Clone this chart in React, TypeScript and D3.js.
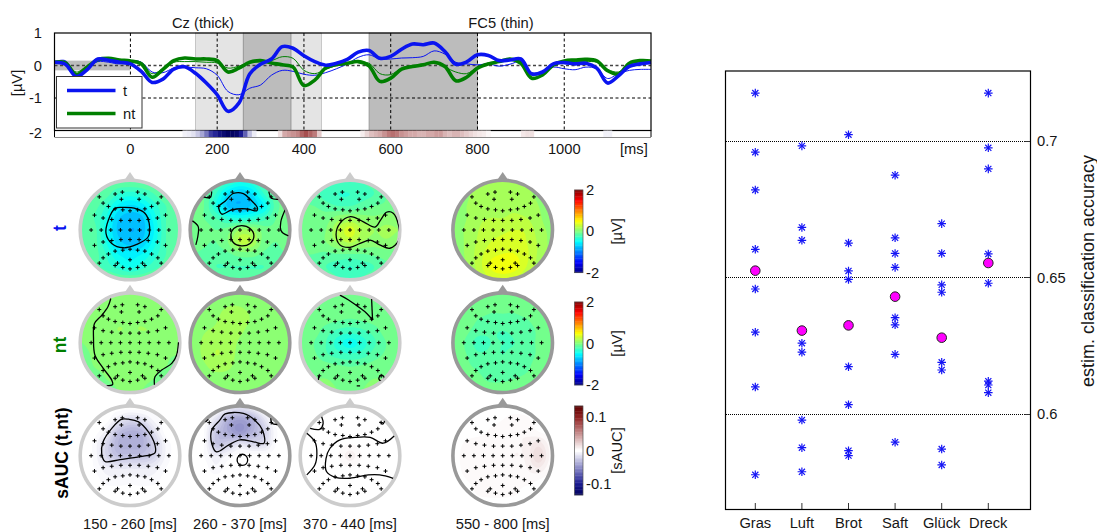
// App.tsx
import React from "react";
import * as d3 from "d3";

// ERP time courses, sampled every 25 ms
const erpTimes = d3.range(-175, 1201, 25);
const tThick = [0.1, 0.04, -0.34, -0.13, 0.2, 0.16, 0.1, 0.05, -0.18, -0.52, -0.42, -0.11, -0.04, -0.24, -0.54, -0.9, -1.41, -1.16, -0.26, 0.04, 0.2, 0.58, 0.53, 0.3, 0.12, 0.01, 0.07, 0.19, 0.41, 0.46, 0.22, 0.28, 0.5, 0.66, 0.64, 0.69, 0.43, 0.04, 0.11, 0.33, 0.31, 0.15, 0.17, 0.2, -0.26, -0.2, 0.05, 0.09, 0.05, 0.07, -0.08, -0.54, -0.32, -0.03, 0.05, 0.09];
const ntThick = [0.1, 0.08, -0.28, -0.05, 0.18, 0.22, 0.17, 0.14, 0.05, -0.36, -0.12, 0.15, 0.23, 0.2, 0.2, 0.15, -0.2, -0.08, 0.1, 0.15, 0.08, 0.02, -0.05, -0.62, -0.45, -0.08, 0.03, 0.07, 0.12, -0.01, -0.49, -0.39, -0.11, -0.03, 0.02, 0.1, -0.03, -0.47, -0.36, -0.08, 0.05, 0.12, 0.2, 0.07, -0.39, -0.29, 0.02, 0.14, 0.17, 0.19, 0.14, -0.16, -0.26, 0.07, 0.15, 0.14];
const tThin = [0.12, 0.15, -0.25, -0.05, 0.12, 0.1, 0.05, 0.15, 0.1, -0.2, -0.22, -0.08, -0.05, -0.07, -0.1, -0.3, -0.8, -0.9, -0.7, -0.6, -0.3, -0.15, -0.18, -0.27, -0.3, -0.22, -0.1, 0.05, 0.25, 0.33, 0.2, 0.2, 0.23, 0.24, 0.28, 0.45, 0.35, 0.1, 0.05, 0.02, 0.05, -0.02, 0.04, 0.12, -0.22, -0.2, -0.05, -0.1, -0.13, -0.05, -0.1, -0.4, -0.25, -0.15, -0.12, -0.12];
const ntThin = [0.12, 0.1, -0.2, -0.02, 0.14, 0.18, 0.15, 0.16, 0.1, -0.25, -0.1, 0.1, 0.12, 0.12, 0.1, 0.08, -0.08, -0.02, 0.1, 0.12, 0.15, 0.27, 0.22, -0.15, -0.25, -0.12, 0, 0.08, 0.1, 0.07, -0.25, -0.28, -0.08, 0, 0.03, 0.08, -0.05, -0.2, -0.25, -0.05, 0.08, 0.12, 0.16, 0.15, -0.3, -0.22, 0, 0.1, 0.12, 0.12, 0.1, -0.12, -0.2, 0.03, 0.12, 0.1];

const lightZones = [[150, 260], [370, 440]];
const darkZones = [[260, 370], [550, 800]];
const timeTicks = [0, 200, 400, 600, 800, 1000];
const voltTicks = [1, 0, -1, -2];

// sAUC strip below the ERP axes: only the non zero 10 ms bins
const stripTimes = [120, 130, 140, 150, 160, 170, 180, 190, 200, 210, 220, 230, 240, 250, 260, 270, 280, 340, 350, 360, 370, 380, 390, 400, 410, 420, 430, 530, 540, 550, 560, 570, 580, 590, 600, 610, 620, 630, 640, 650, 660, 670, 680, 690, 700, 710, 720, 730, 740, 750, 760, 770, 780, 790, 800, 810, 820, 900, 910, 920, 1090, 1100];
const stripValues = [-0.008, -0.01, -0.015, -0.025, -0.04, -0.06, -0.085, -0.095, -0.11, -0.12, -0.13, -0.13, -0.125, -0.1, -0.07, -0.03, -0.01, 0.015, 0.04, 0.045, 0.05, 0.055, 0.07, 0.08, 0.07, 0.06, 0.025, 0.01, 0.02, 0.03, 0.035, 0.04, 0.05, 0.06, 0.065, 0.06, 0.05, 0.045, 0.04, 0.04, 0.035, 0.035, 0.04, 0.04, 0.045, 0.045, 0.035, 0.03, 0.035, 0.035, 0.03, 0.025, 0.02, 0.015, 0.012, 0.01, 0.005, 0.012, 0.015, 0.015, -0.008, -0.008];

// electrode positions, unit = head radius
const electrodeX = [-0.16, 0.16, -0.31, 0.31, -0.64, 0.65, -0.18, 0.19, -0.56, 0.58, -0.45, 0.45, -0.31, -0.15, 0, 0.16, 0.31, -0.74, 0.74, -0.56, -0.38, -0.19, 0, 0.19, 0.38, 0.57, -0.81, -0.6, -0.4, -0.2, 0, 0.2, 0.4, 0.6, 0.81, -0.56, -0.38, -0.19, 0, 0.19, 0.38, 0.57, -0.74, 0.74, -0.31, -0.15, 0, 0.16, 0.31, -0.45, 0.45, -0.56, 0.58, 0, -0.26, 0.26, -0.31, 0.31, -0.64, 0.65, -0.15, 0, 0.16];
const electrodeY = [-0.79, -0.79, -0.75, -0.75, -0.69, -0.69, -0.64, -0.64, -0.56, -0.56, -0.49, -0.49, -0.44, -0.42, -0.4, -0.42, -0.44, -0.31, -0.31, -0.25, -0.22, -0.2, -0.2, -0.2, -0.22, -0.25, 0, 0, 0, 0, 0, 0, 0, 0, 0, 0.25, 0.22, 0.2, 0.2, 0.2, 0.22, 0.25, 0.32, 0.32, 0.44, 0.42, 0.4, 0.42, 0.44, 0.5, 0.5, 0.58, 0.58, 0.62, 0.69, 0.69, 0.74, 0.74, 0.69, 0.69, 0.78, 0.81, 0.78];

// scalp values on a 9x9 grid, rows from nose (y=-1) to back (y=1)
const tGrid1 = [
  [-0.1, -0.1, -0.1, -0.12, -0.12, -0.12, -0.1, -0.1, -0.1],
  [-0.1, -0.1, -0.15, -0.3, -0.35, -0.3, -0.2, -0.1, -0.1],
  [-0.1, -0.15, -0.3, -0.52, -0.62, -0.55, -0.35, -0.2, -0.1],
  [-0.1, -0.2, -0.4, -0.68, -0.75, -0.72, -0.45, -0.2, -0.1],
  [-0.1, -0.15, -0.45, -0.72, -0.8, -0.75, -0.5, -0.2, -0.1],
  [-0.1, -0.15, -0.4, -0.65, -0.75, -0.68, -0.45, -0.2, -0.1],
  [-0.1, -0.15, -0.3, -0.5, -0.55, -0.5, -0.35, -0.2, -0.1],
  [-0.1, -0.15, -0.25, -0.35, -0.45, -0.35, -0.25, -0.15, -0.1],
  [-0.1, -0.1, -0.1, -0.15, -0.15, -0.15, -0.1, -0.1, -0.1],
];
const tGrid2 = [
  [-0.1, -0.1, -0.15, -0.3, -0.4, -0.35, -0.15, -0.1, -0.1],
  [-0.05, -0.1, -0.3, -0.6, -0.72, -0.6, -0.3, -0.1, -0.05],
  [-0.05, -0.1, -0.4, -0.72, -0.78, -0.68, -0.5, -0.15, -0.05],
  [-0.05, -0.1, -0.2, -0.35, -0.4, -0.35, -0.25, -0.1, -0.03],
  [0, -0.05, -0.1, -0.05, 0.1, 0.1, -0.05, -0.08, -0.02],
  [-0.03, -0.08, -0.1, 0, 0.22, 0.18, -0.05, -0.1, -0.05],
  [-0.1, -0.12, -0.15, -0.12, -0.05, -0.05, -0.12, -0.12, -0.1],
  [-0.1, -0.15, -0.2, -0.2, -0.2, -0.2, -0.2, -0.15, -0.1],
  [-0.1, -0.1, -0.15, -0.15, -0.15, -0.15, -0.15, -0.1, -0.1],
];
const tGrid3 = [
  [-0.1, -0.1, -0.15, -0.2, -0.2, -0.2, -0.15, -0.1, -0.1],
  [-0.1, -0.15, -0.25, -0.3, -0.3, -0.25, -0.2, -0.1, -0.1],
  [-0.1, -0.1, -0.15, -0.2, -0.2, -0.15, -0.1, -0.08, -0.05],
  [-0.05, -0.05, -0.05, 0.05, 0.1, 0.05, 0.02, 0.05, 0.05],
  [-0.03, -0.03, 0, 0.2, 0.35, 0.18, 0.1, 0.12, 0.1],
  [-0.05, -0.05, 0, 0.12, 0.22, 0.1, 0.05, 0.08, 0.05],
  [-0.1, -0.1, -0.12, -0.1, -0.1, -0.1, -0.08, -0.05, -0.05],
  [-0.1, -0.15, -0.2, -0.25, -0.3, -0.25, -0.2, -0.12, -0.1],
  [-0.1, -0.1, -0.15, -0.2, -0.25, -0.2, -0.15, -0.1, -0.1],
];
const tGrid4 = [
  [0.02, 0.05, 0.1, 0.12, 0.12, 0.12, 0.1, 0.05, 0.02],
  [0.05, 0.08, 0.15, 0.15, 0.15, 0.15, 0.12, 0.08, 0.05],
  [0.05, 0.1, 0.15, 0.18, 0.18, 0.18, 0.15, 0.1, 0.05],
  [0.05, 0.1, 0.18, 0.2, 0.2, 0.22, 0.2, 0.12, 0.05],
  [0.05, 0.12, 0.2, 0.25, 0.28, 0.3, 0.28, 0.15, 0.08],
  [0.05, 0.12, 0.22, 0.3, 0.33, 0.33, 0.3, 0.18, 0.08],
  [0.05, 0.12, 0.25, 0.36, 0.4, 0.4, 0.32, 0.18, 0.08],
  [0.05, 0.1, 0.25, 0.42, 0.48, 0.45, 0.3, 0.15, 0.05],
  [0.05, 0.08, 0.2, 0.32, 0.36, 0.32, 0.2, 0.1, 0.05],
];
const ntGrid1 = [
  [0, 0, 0.02, 0.02, 0.02, 0.02, 0.02, 0, 0],
  [0, 0.01, 0.03, 0.05, 0.05, 0.05, 0.03, 0.01, 0],
  [0, 0.01, 0.05, 0.08, 0.08, 0.08, 0.05, 0.02, 0],
  [0, 0.01, 0.07, 0.1, 0.09, 0.1, 0.09, 0.03, 0.01],
  [0, 0.02, 0.07, 0.05, 0.03, 0.03, 0.07, 0.05, 0.02],
  [-0.02, 0.01, 0.03, 0.03, 0.01, 0.03, 0.03, 0.01, 0],
  [-0.03, 0, 0.01, 0.02, 0.01, 0.02, 0.01, 0, -0.02],
  [-0.03, -0.02, 0, 0.01, 0.01, 0.01, 0, -0.02, -0.03],
  [-0.03, -0.03, -0.02, 0, 0, 0, -0.02, -0.03, -0.03],
];
const ntGrid2 = [
  [0.01, 0.02, 0.03, 0.05, 0.05, 0.03, 0.02, 0.01, 0.01],
  [0.02, 0.03, 0.07, 0.1, 0.1, 0.07, 0.03, 0.02, 0.01],
  [0.02, 0.05, 0.09, 0.14, 0.14, 0.09, 0.04, 0.03, 0.02],
  [0.03, 0.09, 0.12, 0.16, 0.12, 0.06, 0.03, 0.03, 0.02],
  [0.05, 0.12, 0.18, 0.16, 0.08, 0.03, 0.03, 0.03, 0.02],
  [0.05, 0.12, 0.2, 0.16, 0.06, 0.03, 0.03, 0.03, 0.02],
  [0.03, 0.08, 0.14, 0.12, 0.05, 0.03, 0.03, 0.02, 0.02],
  [0.02, 0.03, 0.05, 0.05, 0.03, 0.03, 0.02, 0.02, 0.01],
  [0.01, 0.02, 0.02, 0.02, 0.02, 0.02, 0.01, 0.01, 0.01],
];
const ntGrid3 = [
  [0, 0, 0, 0, -0.03, -0.03, 0, 0, 0],
  [0, 0, -0.02, -0.05, -0.05, -0.05, -0.02, 0, 0],
  [0, -0.02, -0.05, -0.08, -0.1, -0.08, -0.05, -0.02, 0],
  [-0.02, -0.05, -0.15, -0.22, -0.25, -0.22, -0.15, -0.05, -0.02],
  [-0.03, -0.1, -0.2, -0.35, -0.45, -0.35, -0.22, -0.1, -0.03],
  [-0.03, -0.08, -0.18, -0.25, -0.28, -0.25, -0.15, -0.08, -0.03],
  [0, -0.03, -0.05, -0.08, -0.1, -0.08, -0.05, -0.03, 0],
  [0.02, 0, 0, -0.02, -0.02, -0.02, 0, 0, 0.02],
  [0.02, 0.02, 0.02, 0, 0, 0, 0.02, 0.02, 0.02],
];
const ntGrid4 = [
  [-0.03, -0.03, -0.05, -0.05, -0.05, -0.05, -0.05, -0.03, -0.03],
  [-0.03, -0.05, -0.05, -0.08, -0.08, -0.08, -0.05, -0.05, -0.03],
  [-0.03, -0.05, -0.1, -0.12, -0.12, -0.12, -0.1, -0.05, -0.03],
  [-0.03, -0.08, -0.15, -0.18, -0.2, -0.18, -0.15, -0.08, -0.03],
  [-0.05, -0.12, -0.25, -0.2, -0.2, -0.2, -0.15, -0.08, -0.03],
  [-0.05, -0.1, -0.18, -0.18, -0.2, -0.18, -0.15, -0.08, -0.03],
  [-0.03, -0.08, -0.12, -0.15, -0.18, -0.15, -0.12, -0.05, -0.03],
  [-0.03, -0.05, -0.08, -0.12, -0.12, -0.1, -0.08, -0.05, -0.03],
  [-0.03, -0.03, -0.05, -0.05, -0.05, -0.05, -0.05, -0.03, -0.03],
];
const aucGrid1 = [
  [0, 0, 0, 0, 0, 0, 0, 0, 0],
  [0, 0, 0, -0.01, -0.018, -0.014, -0.005, 0, 0],
  [0, 0, -0.008, -0.028, -0.035, -0.032, -0.014, 0, 0],
  [0, -0.003, -0.018, -0.034, -0.037, -0.035, -0.022, -0.005, 0],
  [0, -0.003, -0.018, -0.028, -0.028, -0.028, -0.02, -0.005, 0],
  [0, -0.002, -0.009, -0.011, -0.011, -0.011, -0.009, -0.002, 0],
  [0, 0, -0.004, -0.005, -0.004, -0.005, -0.004, 0, 0],
  [0, 0, 0, 0, 0, 0, 0, 0, 0],
  [0, 0, 0, 0, 0, 0, 0, 0, 0],
];
const aucGrid2 = [
  [0, 0, 0, -0.01, -0.015, -0.01, 0, 0, 0],
  [0, 0, -0.015, -0.035, -0.042, -0.035, -0.015, 0, 0],
  [0, -0.002, -0.026, -0.038, -0.046, -0.035, -0.022, -0.003, 0],
  [0, -0.002, -0.026, -0.022, -0.014, -0.018, -0.016, -0.002, 0],
  [0, -0.002, -0.01, -0.005, 0, 0, 0, 0, 0],
  [0, 0, -0.005, 0, 0, 0, 0, 0, 0],
  [0, 0, 0, 0, 0, 0, 0, 0, 0],
  [0, 0, 0, 0, 0, 0, 0, 0, 0],
  [0, 0, 0, 0, 0, 0, 0, 0, 0],
];
const aucGrid3 = [
  [0, 0, 0, 0, 0, 0, 0, 0, 0],
  [0, 0, 0, 0, 0, 0, 0, 0, 0],
  [0, 0, 0, 0, 0, 0, 0, 0, 0],
  [0, 0, 0, 0, 0.002, 0, 0, 0, 0],
  [0, 0, 0, 0.002, 0.008, 0.002, 0, 0, 0],
  [0, 0, 0, 0, 0.002, 0, 0, 0, 0],
  [0, 0, 0, 0, 0, 0, 0, 0, 0],
  [0, 0, 0, 0, 0, 0, 0, 0, 0],
  [0, 0, 0, 0, 0, 0, 0, 0, 0],
];
const aucGrid4 = [
  [0, 0, 0, 0, 0, 0, 0, 0, 0],
  [0, 0, 0, 0, 0.002, 0.004, 0.003, 0, 0],
  [0, 0, 0, 0.003, 0.005, 0.006, 0.005, 0.002, 0],
  [0, 0.003, 0.005, 0.004, 0.003, 0.005, 0.007, 0.012, 0.004],
  [0, 0.005, 0.005, 0.003, 0.005, 0.006, 0.007, 0.018, 0.005],
  [0, 0.004, 0.004, 0.002, 0.004, 0.004, 0.006, 0.01, 0.003],
  [0, 0.002, 0.004, 0.004, 0.003, 0.004, 0.004, 0.002, 0],
  [0, 0, 0.003, 0.004, 0.004, 0.003, 0, 0, 0],
  [0, 0, 0, 0, 0, 0, 0, 0, 0],
];

type Outline = { closed: boolean; pts: number[][] };
const tLines1: Outline[] = [
  { closed: true, pts: [[-0.31, -0.45], [-0.14, -0.47], [0.14, -0.44], [0.31, -0.35], [0.4, -0.14], [0.38, 0.14], [0.14, 0.3], [-0.14, 0.37], [-0.38, 0.28], [-0.5, 0.07], [-0.45, -0.21]] },
];
const tLines2: Outline[] = [
  { closed: true, pts: [[-0.14, -0.76], [0.07, -0.76], [0.22, -0.63], [0.36, -0.47], [0.35, -0.4], [0.14, -0.44], [-0.17, -0.42], [-0.38, -0.33], [-0.44, -0.49], [-0.31, -0.6]] },
  { closed: true, pts: [[0.03, -0.09], [0.21, -0.03], [0.29, 0.12], [0.21, 0.28], [0.03, 0.33], [-0.14, 0.26], [-0.19, 0.1], [-0.13, -0.03]] },
  { closed: false, pts: [[-0.76, -0.69], [-0.62, -0.68], [-0.59, -0.8]] },
  { closed: false, pts: [[0.6, -0.8], [0.66, -0.66], [0.8, -0.64]] },
  { closed: false, pts: [[-0.99, -0.19], [-0.87, -0.07], [-0.88, 0.14], [-0.92, 0.31]] },
  { closed: false, pts: [[0.94, -0.42], [0.85, -0.17], [0.85, 0], [0.9, 0.07], [1.01, 0.12]] },
];
const tLines3: Outline[] = [
  { closed: true, pts: [[0.01, -0.28], [0.28, -0.17], [0.52, -0.06], [0.64, -0.21], [0.76, -0.37], [0.9, -0.35], [1.01, -0.1], [1.02, 0.21], [0.83, 0.38], [0.62, 0.31], [0.42, 0.21], [0.21, 0.28], [0, 0.36], [-0.21, 0.31], [-0.29, 0.1], [-0.21, -0.14]] },
];
const ntLines1: Outline[] = [
  { closed: false, pts: [[-0.4, -0.92], [-0.46, -0.75], [-0.59, -0.57], [-0.74, -0.4], [-0.76, -0.09], [-0.73, 0.26], [-0.56, 0.53], [-0.38, 0.78], [-0.36, 0.87], [-0.49, 0.9]] },
  { closed: false, pts: [[1.01, -0.01], [0.97, 0.26], [0.87, 0.43], [0.66, 0.57], [0.52, 0.71], [0.51, 0.88]] },
];
const ntLines3: Outline[] = [
  { closed: false, pts: [[-0.21, -0.99], [-0.03, -0.89], [0.17, -0.75], [0.35, -0.61], [0.47, -0.47]] },
  { closed: false, pts: [[0.47, -0.47], [0.45, -0.91]] },
  { closed: false, pts: [[-0.65, 0.69], [-0.66, 0.78]] },
  { closed: true, pts: [[0.64, 0.68], [0.7, 0.7], [0.71, 0.76], [0.65, 0.8], [0.6, 0.75]] },
  { closed: false, pts: [[0.14, 0.9], [0.21, 0.9]] },
];
const aucLines1: Outline[] = [
  { closed: true, pts: [[-0.17, -0.76], [-0.03, -0.76], [0.17, -0.71], [0.38, -0.5], [0.52, -0.22], [0.52, -0.06], [0.21, 0.02], [-0.21, 0.08], [-0.52, 0.12], [-0.59, -0.05], [-0.56, -0.29], [-0.38, -0.57]] },
];
const aucLines2: Outline[] = [
  { closed: true, pts: [[-0.31, -0.87], [0.07, -0.88], [0.31, -0.74], [0.47, -0.53], [0.5, -0.26], [0.28, -0.29], [0, -0.33], [-0.24, -0.22], [-0.49, -0.08], [-0.59, -0.26], [-0.59, -0.53], [-0.42, -0.74]] },
  { closed: true, pts: [[0.05, -0.03], [0.13, 0.01], [0.16, 0.09], [0.13, 0.17], [0.05, 0.2], [-0.03, 0.17], [-0.06, 0.09], [-0.03, 0.01]] },
  { closed: false, pts: [[-0.72, -0.7], [-0.66, -0.76]] },
  { closed: false, pts: [[0.64, -0.78], [0.67, -0.67], [0.78, -0.65]] },
];
const aucLines3: Outline[] = [
  { closed: false, pts: [[0.92, -0.41], [0.69, -0.26], [0.42, -0.38], [0.1, -0.38], [-0.21, -0.33], [-0.42, -0.15], [-0.5, 0.06], [-0.49, 0.33], [-0.31, 0.45], [0, 0.47], [0.38, 0.4], [0.62, 0.4], [0.9, 0.47]] },
  { closed: false, pts: [[-0.9, -0.47], [-0.73, -0.29], [-0.69, -0.05], [-0.73, 0.19], [-0.9, 0.4]] },
  { closed: false, pts: [[-0.83, -0.57], [-0.63, -0.55], [-0.56, -0.67], [-0.59, -0.81]] },
  { closed: false, pts: [[0.62, -0.71], [0.68, -0.66], [0.73, -0.74]] },
];

const intervalLabels = ["150 - 260 [ms]", "260 - 370 [ms]", "370 - 440 [ms]", "550 - 800 [ms]"];

// classification accuracies
const words = ["Gras", "Luft", "Brot", "Saft", "Glück", "Dreck"];
const subjectAcc = [
  [0.7174, 0.6958, 0.682, 0.6603, 0.6458, 0.63, 0.61, 0.5779],
  [0.6981, 0.6683, 0.6636, 0.626, 0.6227, 0.5979, 0.5878, 0.579],
  [0.7022, 0.6626, 0.6524, 0.6493, 0.6174, 0.6035, 0.5867, 0.5849],
  [0.6874, 0.6645, 0.6588, 0.6537, 0.6353, 0.6327, 0.6219, 0.5898],
  [0.6697, 0.6588, 0.6473, 0.6446, 0.619, 0.6162, 0.5873, 0.5815],
  [0.7174, 0.6974, 0.6897, 0.6586, 0.6479, 0.6121, 0.6107, 0.6079],
];
const meanAcc = [0.6525, 0.6306, 0.6325, 0.643, 0.628, 0.6553];
const accTicks = [0.7, 0.65, 0.6];

const FONT = "'Liberation Sans', Arial, sans-serif";
const INK = "#161616";

const x = d3.scaleLinear().domain([-175, 1200]).range([54.5, 651]);
const y = d3.scaleLinear().domain([-2, 1]).range([130.5, 33]);

const jet = d3
  .scaleLinear<string>()
  .domain([-2, -1.5, -0.5, 0.5, 1.5, 2])
  .range(["#000080", "#0000ff", "#00ffff", "#ffff00", "#ff0000", "#800000"]);
const aucColor = d3
  .scaleLinear<string>()
  .domain([-0.134, -0.1, -0.002, 0.002, 0.1, 0.134])
  .range(["#00005c", "#1a1a90", "#ffffff", "#ffffff", "#8f2020", "#5c0000"]);

const erpLine = d3
  .line<number>()
  .x((_, i) => x(erpTimes[i]))
  .y((d) => y(d))
  .curve(d3.curveCatmullRom.alpha(0.5));

// cubic upsampling of a coarse scalp grid, so d3.contours gets a smooth field
const UP = 8;
function cubic(v: number[], t: number) {
  const i = Math.min(Math.floor(t), v.length - 2);
  const f = t - i;
  const a = v[Math.max(i - 1, 0)];
  const b = v[i];
  const c = v[i + 1];
  const d = v[Math.min(i + 2, v.length - 1)];
  return b + 0.5 * f * (c - a + f * (2 * a - 5 * b + 4 * c - d + f * (3 * (b - c) + d - a)));
}
function upsample(grid: number[][]) {
  const size = (grid.length - 1) * UP + 1;
  const rows = grid.map((r) => d3.range(size).map((i) => cubic(r, i / UP)));
  const out: number[] = [];
  for (let j = 0; j < size; j++) {
    for (let i = 0; i < size; i++) {
      out.push(cubic(rows.map((r) => r[i]), j / UP));
    }
  }
  return { values: out, size };
}

const HEAD_R = 48;
const uvLevels = d3.range(-2, 2.01, 0.1);
const aucLevels = d3.range(-0.138, 0.14, 0.004);

const plusPath = d3.symbol().type(d3.symbolPlus).size(6)()!;
const starPlus = d3.symbol().type(d3.symbolPlus).size(26)()!;
const starTimes = d3.symbol().type(d3.symbolTimes).size(26)()!;
const headScale = d3.scaleLinear().domain([-1, 1]).range([-HEAD_R, HEAD_R]);

function Head({ id, cx, cy, grid, lines, dark, auc }: { id: string; cx: number; cy: number; grid: number[][]; lines: Outline[]; dark: boolean; auc: boolean }) {
  const { values, size } = upsample(grid);
  const levels = auc ? aucLevels : uvLevels;
  const step = levels[1] - levels[0];
  const color = auc ? aucColor : jet;
  const gridScale = d3.scaleLinear().domain([0, size - 1]).range([-HEAD_R, HEAD_R]);
  const project = d3.geoTransform({
    point(px: number, py: number) {
      (this as any).stream.point(gridScale(px - 0.5), gridScale(py - 0.5));
    },
  });
  const path = d3.geoPath(project);
  const bands = d3.contours().size([size, size]).thresholds(levels)(values);
  const ringColor = dark ? "#999999" : "#cccccc";
  const lineGen = (o: Outline) =>
    d3
      .line()
      .x((d) => headScale(d[0]))
      .y((d) => headScale(d[1]))
      .curve(o.closed ? d3.curveCatmullRomClosed : d3.curveCatmullRom)(o.pts as [number, number][])!;
  return (
    <g transform={`translate(${cx},${cy})`}>
      <clipPath id={id}>
        <circle r={HEAD_R + 1} />
      </clipPath>
      <path d={`M-5.5,-50 L0,-58 L5.5,-50 Z`} fill={ringColor} />
      <g clipPath={`url(#${id})`}>
        <rect x={-HEAD_R - 2} y={-HEAD_R - 2} width={2 * HEAD_R + 4} height={2 * HEAD_R + 4} fill={color(levels[0])} />
        {bands.map((b, i) => (b.coordinates.length ? <path key={i} d={path(b as any)!} fill={color(b.value + step / 2)} /> : null))}
      </g>
      <circle r={49.8} fill="none" stroke={ringColor} strokeWidth={3.6} />
      <g clipPath={`url(#${id})`}>
        {lines.map((o, i) => (
          <path key={i} d={lineGen(o)} fill="none" stroke="#000" strokeWidth={1.3} />
        ))}
      </g>
      {electrodeX.map((ex, i) => (
        <path key={i} d={plusPath} transform={`translate(${headScale(ex)},${headScale(electrodeY[i])})`} fill="none" stroke="#000" strokeWidth={1} />
      ))}
    </g>
  );
}

function ColorBar({ top, bottom, domain, color, ticks, label, fmt }: { top: number; bottom: number; domain: [number, number]; color: (v: number) => string; ticks: number[]; label: string; fmt: (v: number) => string }) {
  const scale = d3.scaleLinear().domain(domain).range([bottom, top]);
  const cells = d3.range(64).map((i) => domain[0] + ((i + 0.5) / 64) * (domain[1] - domain[0]));
  const h = (bottom - top) / 64;
  return (
    <g fontFamily={FONT} fill={INK}>
      {cells.map((v, i) => (
        <rect key={i} x={574.5} y={scale(v) - h / 2 - 0.2} width={8.5} height={h + 0.4} fill={color(v)} />
      ))}
      <rect x={574.5} y={top} width={8.5} height={bottom - top} fill="none" stroke="#555" strokeWidth={0.7} />
      {ticks.map((t) => (
        <text key={t} x={586} y={scale(t)} fontSize={14.7} dominantBaseline="central">
          {fmt(t)}
        </text>
      ))}
      <text transform={`translate(617,${(top + bottom) / 2}) rotate(-90)`} textAnchor="middle" dominantBaseline="central" fontSize={14.7}>
        {label}
      </text>
    </g>
  );
}

const ax = d3.scaleLinear().domain([0, 5]).range([755.3, 988.3]);
const ay = d3.scaleLinear().domain([0.6, 0.7]).range([414.3, 140.7]);

function Scatter() {
  return (
    <g fontFamily={FONT} fill={INK}>
      {accTicks.map((t) => (
        <g key={t}>
          <line x1={726} x2={1030} y1={Math.round(ay(t)) + 0.5} y2={Math.round(ay(t)) + 0.5} stroke="#000" strokeWidth={1} strokeDasharray="1 1" />
          <line x1={1024.5} x2={1030.5} y1={Math.round(ay(t)) + 0.5} y2={Math.round(ay(t)) + 0.5} stroke="#333" strokeWidth={1} />
          <text x={1037} y={ay(t)} fontSize={14.7} dominantBaseline="central">
            {String(t)}
          </text>
        </g>
      ))}
      {words.map((w, i) => (
        <g key={w}>
          <line x1={ax(i)} x2={ax(i)} y1={503} y2={509} stroke="#333" strokeWidth={1} />
          <text x={ax(i)} y={528} fontSize={14.7} textAnchor="middle">
            {w}
          </text>
        </g>
      ))}
      <rect x={725.5} y={71} width={305} height={438.5} fill="none" stroke="#000" strokeWidth={1.2} />
      {subjectAcc.map((vals, i) =>
        vals.map((v, j) => (
          <g key={`${i}-${j}`} transform={`translate(${ax(i)},${ay(v)})`} fill="none" stroke="#1414f5" strokeWidth={1.2}>
            <path d={starPlus} />
            <path d={starTimes} />
          </g>
        ))
      )}
      {meanAcc.map((v, i) => (
        <circle key={i} cx={ax(i)} cy={ay(v)} r={4.8} fill="#ff00ff" stroke="#222" strokeWidth={1} />
      ))}
      <text transform={`translate(1088,271) rotate(-90)`} textAnchor="middle" dominantBaseline="central" fontSize={18}>
        estim. classification accuracy
      </text>
    </g>
  );
}

function ErpAxes() {
  const top = y(1);
  const bottom = y(-2);
  const barW = x(10) - x(0);
  return (
    <g fontFamily={FONT} fill={INK}>
      {lightZones.map(([a, b]) => (
        <rect key={a} x={x(a)} y={top} width={x(b) - x(a)} height={bottom - top} fill="#e4e4e4" stroke="#a8a8a8" strokeWidth={0.6} />
      ))}
      {darkZones.map(([a, b]) => (
        <rect key={a} x={x(a)} y={top} width={x(b) - x(a)} height={bottom - top} fill="#bcbcbc" stroke="#808080" strokeWidth={0.6} />
      ))}
      <rect x={x(-175)} y={y(0.15)} width={x(0) - x(-175)} height={y(-0.15) - y(0.15)} fill="#bcbcbc" />
      {timeTicks.map((t) => (
        <line key={t} x1={x(t)} x2={x(t)} y1={top} y2={bottom} stroke="#000" strokeWidth={1} strokeDasharray="3 2.5" />
      ))}
      <line x1={x(-175)} x2={x(1200)} y1={y(-1)} y2={y(-1)} stroke="#000" strokeWidth={1} strokeDasharray="3 2.5" />
      <line x1={x(-175)} x2={x(1200)} y1={y(0)} y2={y(0)} stroke="#444" strokeWidth={1.5} strokeDasharray="3 2.5" />
      <path d={erpLine(ntThin)!} fill="none" stroke="#007f00" strokeWidth={1} />
      <path d={erpLine(tThin)!} fill="none" stroke="#0a14f0" strokeWidth={1} />
      <path d={erpLine(ntThick)!} fill="none" stroke="#007f00" strokeWidth={3.6} />
      <path d={erpLine(tThick)!} fill="none" stroke="#0a14f0" strokeWidth={3.6} />
      <rect x={x(-175)} y={top} width={x(1200) - x(-175)} height={bottom - top} fill="none" stroke="#000" strokeWidth={1.2} />

      <rect x={56.5} y={76.5} width={85.5} height={51.5} fill="#fff" stroke="#333" strokeWidth={1} />
      <line x1={67} x2={115.5} y1={90.5} y2={90.5} stroke="#0a14f0" strokeWidth={3.6} />
      <line x1={67} x2={115.5} y1={113.5} y2={113.5} stroke="#007f00" strokeWidth={3.6} />
      <text x={123} y={96} fontSize={14.7}>t</text>
      <text x={123} y={119} fontSize={14.7}>nt</text>

      {stripTimes.map((t, i) => (
        <rect key={t} x={x(t)} y={bottom} width={barW + 0.3} height={6.5} fill={aucColor(stripValues[i])} />
      ))}
      <line x1={x(-175)} x2={x(1200)} y1={137.5} y2={137.5} stroke="#888" strokeWidth={1} />
      <line x1={x(-175)} x2={x(-175)} y1={bottom} y2={137} stroke="#000" strokeWidth={1} />
      <line x1={x(1200)} x2={x(1200)} y1={bottom} y2={137} stroke="#000" strokeWidth={1} />

      {voltTicks.map((t) => (
        <text key={t} x={42} y={t === -2 ? y(t) + 2 : y(t)} fontSize={14.7} textAnchor="end" dominantBaseline="central">
          {t}
        </text>
      ))}
      <text transform="translate(17,83) rotate(-90)" fontSize={14.7} textAnchor="middle" dominantBaseline="central">
        [µV]
      </text>
      {timeTicks.map((t) => (
        <text key={t} x={x(t)} y={154} fontSize={14.7} textAnchor="middle">
          {t}
        </text>
      ))}
      <text x={620} y={154} fontSize={14.7}>[ms]</text>
      <text x={203} y={28} fontSize={14.7} textAnchor="middle">Cz (thick)</text>
      <text x={501} y={28} fontSize={14.7} textAnchor="middle">FC5 (thin)</text>
    </g>
  );
}

const headColumns = [130, 240, 350, 502.7];
const headRows = [230, 342.7, 455.7];
const headGrids = [
  [tGrid1, tGrid2, tGrid3, tGrid4],
  [ntGrid1, ntGrid2, ntGrid3, ntGrid4],
  [aucGrid1, aucGrid2, aucGrid3, aucGrid4],
];
const headLines = [
  [tLines1, tLines2, tLines3, []],
  [ntLines1, [], ntLines3, []],
  [aucLines1, aucLines2, aucLines3, []],
];

export default function App() {
  return (
    <svg width={1097} height={532} style={{ position: "absolute", left: 0, top: 0, background: "#fff" }}>
      <ErpAxes />
      {headRows.map((cy, r) =>
        headColumns.map((cx, c) => (
          <Head key={`${r}-${c}`} id={`head-${r}-${c}`} cx={cx} cy={cy} grid={headGrids[r][c]} lines={headLines[r][c]} dark={c % 2 === 1} auc={r === 2} />
        ))
      )}
      <g fontFamily={FONT} fontWeight="bold" fontSize={17.5}>
        <text transform="translate(60,228) rotate(-90)" textAnchor="middle" dominantBaseline="central" fill="#0a14f0">t</text>
        <text transform="translate(60,345) rotate(-90)" textAnchor="middle" dominantBaseline="central" fill="#007f00">nt</text>
        <text transform="translate(62,453) rotate(-90)" textAnchor="middle" dominantBaseline="central" fill="#000">sAUC (t,nt)</text>
      </g>
      {intervalLabels.map((l, i) => (
        <text key={l} x={headColumns[i]} y={529} fontFamily={FONT} fontSize={14.7} fill={INK} textAnchor="middle">
          {l}
        </text>
      ))}
      <ColorBar top={190} bottom={272.7} domain={[-2, 2]} color={jet} ticks={[2, 0, -2]} label="[µV]" fmt={String} />
      <ColorBar top={302} bottom={385} domain={[-2, 2]} color={jet} ticks={[2, 0, -2]} label="[µV]" fmt={String} />
      <ColorBar top={406} bottom={495} domain={[-0.134, 0.134]} color={aucColor} ticks={[0.1, 0, -0.1]} label="[sAUC]" fmt={String} />
      <Scatter />
    </svg>
  );
}
